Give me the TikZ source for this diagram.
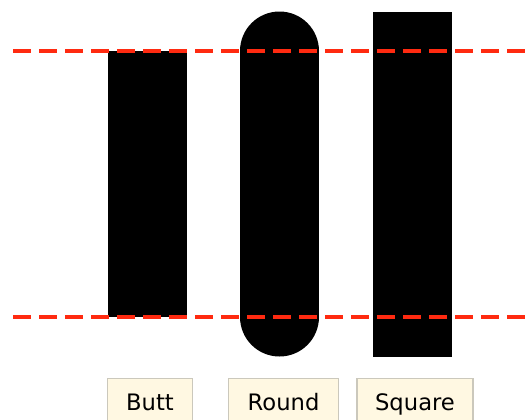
\documentclass[tikz,border=0pt]{standalone}
\usepackage{fontspec}
\setsansfont{DejaVu Sans}
\usepackage{xcolor}
\usepackage{tikz}
\usetikzlibrary{positioning}
\definecolor{guidered}{HTML}{FF2A10}
\definecolor{labelfill}{HTML}{FFF8E2}
\definecolor{labeldraw}{HTML}{CBC8BC}
\tikzset{
  capbar/.style={line width=59.25pt,draw=black},
  guide/.style={draw=guidered,line width=3pt,dash pattern=on 13.5pt off 6pt},
  labelbox/.style={draw=labeldraw,fill=labelfill,line width=0.8pt,inner sep=0pt,
    text height=24pt,text depth=20pt,font=\sffamily\fontsize{17}{20}\selectfont}
}
\begin{document}
\begin{tikzpicture}[x=0.75pt,y=-0.75pt]
    \useasboundingbox (0,0) rectangle (528,419);
    \coordinate (buttTop) at (147.5,51);
    \coordinate (buttBot) at (147.5,317);
    \coordinate (roundTop) at (279.5,51);
    \coordinate (roundBot) at (279.5,317);
    \coordinate (squareTop) at (412,51);
    \coordinate (squareBot) at (412,317);
    \draw[capbar,line cap=butt] (buttTop) -- (buttBot);
    \draw[capbar,line cap=round] (roundTop) -- (roundBot);
    \draw[capbar,line cap=rect] (squareTop) -- (squareBot);
    \coordinate (topL) at (13,51);
    \coordinate (topR) at (540,51);
    \coordinate (botL) at (13,317);
    \coordinate (botR) at (540,317);
    \draw[guide] (topL) -- (topR);
    \draw[guide] (botL) -- (botR);
    \node[labelbox,anchor=north,minimum width=63.75pt] (buttLabel) at (150,378) {Butt};
    \node[labelbox,anchor=north,minimum width=82.5pt] (roundLabel) at (283.5,378) {Round};
    \node[labelbox,anchor=north,minimum width=87pt] (squareLabel) at (415,378) {Square};
\end{tikzpicture}
\end{document}
